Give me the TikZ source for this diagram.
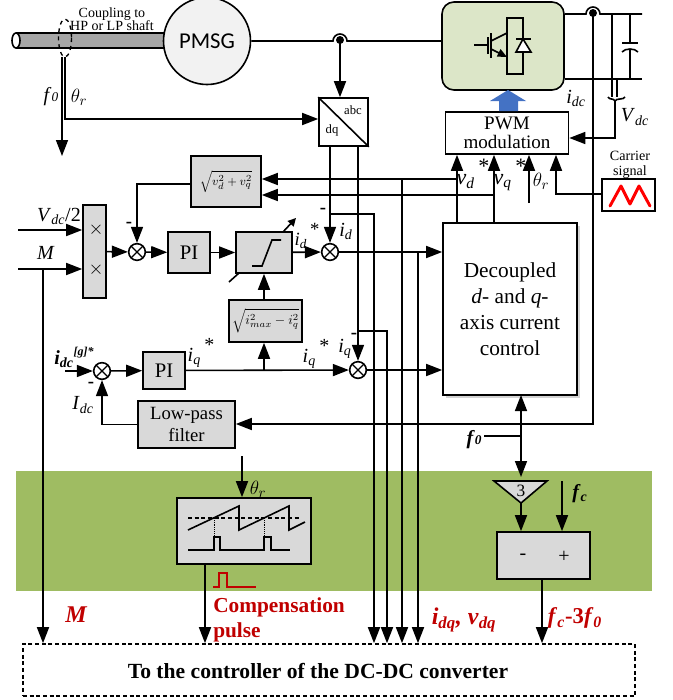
\documentclass[tikz,border=0pt]{standalone}
\usepackage{amsmath}
\usepackage{fontspec}
\setmainfont{Liberation Serif}
\newfontfamily\pmsgfont{Carlito}
\usetikzlibrary{arrows.meta,calc,shadows}
\definecolor{bandgreen}{HTML}{9FBC62}
\definecolor{invgreen}{HTML}{DCE6C8}
\definecolor{blockgray}{HTML}{D9D9D9}
\definecolor{redlabel}{HTML}{C00000}
\definecolor{pwmblue}{HTML}{4472C4}
\newcommand{\fs}[1]{\fontsize{#1}{#1}\selectfont}
\newcommand{\sub}[2]{\textit{#1}$_{\textit{#2}}$}
\newcommand{\subst}[2]{\textit{#1}$_{\textit{#2}}$\raisebox{.5em}{\,*}}
\tikzset{
	sized/.style 2 args={minimum width=#1*0.75pt,minimum height=#2*0.75pt,inner sep=0pt},
	block/.style={draw,line width=1.2pt,fill=blockgray},
	plainblock/.style={draw,line width=1.2pt,fill=white},
	wire/.style={line width=1.2pt},
	feed/.style={line width=1.2pt,-{Triangle[length=12pt,width=9pt]}},
	mixer/.style={draw,circle,line width=1.2pt,fill=white,minimum size=12.5pt,inner sep=0pt,
		path picture={\draw[line width=1pt] (path picture bounding box.north west) -- (path picture bounding box.south east)
			(path picture bounding box.north east) -- (path picture bounding box.south west);}},
	lab/.style={inner sep=0pt,font=\fs{15}},
	minus/.style={inner sep=0pt,font=\fs{14}\bfseries},
	redlab/.style={inner sep=0pt,text=redlabel,font=\fs{16}\bfseries}
}

\begin{document}
\begin{tikzpicture}[x=0.75pt,y=-0.75pt]
		%%%%% START %%%%%
		\useasboundingbox (0,0) rectangle (673,700);
		
		\fill[bandgreen] (16,471) rectangle (652,591);
		
		%%%%% shaft and generator
		\draw[wire,fill=black!35] (16,33) -- (165,33) -- (165,48) -- (16,48);
		\draw[wire,fill=white] (16,40.5) ellipse (4 and 7.5);
		\draw[line width=1pt,dashed] (65,38) ellipse (6.5 and 19);
		\node[sized={87}{87},draw,circle,line width=1.2pt,fill=black!5,font=\pmsgfont\fs{17}] (pmsg) at (207,41) {PMSG};
		\node[inner sep=0pt,align=center,font=\fs{10.5}] (coupling) at (112,19) {Coupling to\\[-0.5pt]HP or LP shaft};
		
		%%%%% converter
		\node[sized={122}{88},draw,rounded corners=9pt,line width=1.2pt,fill=invgreen] (inv) at (503,46) {};
		\draw[wire] (474,45) -- (488,45) (488,37) -- (488,54) (491,33) -- (491,58);
		\draw[wire] (491,41) -- (507,33) (507,18) rectangle (523,74);
		\draw[line width=1.2pt,-{Triangle[length=7pt,width=6pt]}] (491,49) -- (507,57);
		\draw[wire,fill=white] (523,39) -- (516,52) -- (531,52) -- cycle;
		\draw[wire] (516,39) -- (531,39);
		
		\coordinate (hopac) at (333,41);
		\coordinate (hopdc) at (586,14);
		\coordinate (acdot) at (340,40);
		\coordinate (dcdot) at (593,13);
		\draw[wire] (pmsg) -- (hopac) arc (180:360:7) -- (hopac -| inv.west);
		\draw[wire] (inv.east |- hopdc) -- (hopdc) arc (180:360:7) -- (642,14);
		\fill (acdot) circle (4);
		\fill (dcdot) circle (4);
		\draw[wire] (inv.east |- 0,79) -- (642,79);
		
		%%%%% dc link
		\draw[wire] (630,14) -- (630,43) (622,43) -- (638,43);
		\draw[wire] (622,52) .. controls (625,48) and (635,48) .. (638,52);
		\draw[wire] (630,49) -- (630,79);
		\draw[wire] (612,14) -- (612,97) (617,79) -- (617,97);
		\draw[wire] (608,97) .. controls (609,100) and (614,98) .. (615,101) .. controls (616,98) and (624,100) .. (625,97);
		\node[lab] (idclab) at (576,98) {\sub{i}{dc}};
		\node[lab] (vdclab) at (635,117) {\sub{V}{dc}};
		
		%%%%% pwm
		\node[sized={123}{42},plainblock,align=center,font=\fs{14.3}] (pwm) at (507,133) {PWM\\[0pt]modulation};
		\fill[pwmblue] (499,111) -- (499,101) -- (490,101) -- (508,90) -- (526,101) -- (518,101) -- (518,111) -- cycle;
		\coordinate (vdcdown) at (615,101);
		\draw[feed] (vdcdown) |- (pwm.east |- 0,138);
		
		\node[sized={53}{32},plainblock] (carrier) at (628.5,195) {};
		\draw[line width=2.2pt,red,line cap=round,line join=round] (610,206) -- (621,186) -- (630,204) -- (639,186) -- (650,206);
		\node[inner sep=0pt,align=center,font=\fs{10.6}] (carrierlab) at (630,165) {Carrier\\[0.5pt]signal};
		\coordinate (carrierup) at (556,194);
		\draw[feed] (carrier.west |- carrierup) -- (carrierup) -- (carrierup |- pwm.south);
		\coordinate (thetaup) at (529,203);
		\draw[feed] (thetaup) -- (thetaup |- pwm.south);
		\node[lab] (thetapwm) at (541,181) {$\theta_r$};
		\node[lab,font=\fs{16.5}] (vdlab) at (473,174) {\subst{v}{d}};
		\node[lab,font=\fs{16.5}] (vqlab) at (510,175) {\subst{v}{q}};
		
		%%%%% abc to dq
		\node[sized={49}{48},draw,line width=1.2pt,fill=white] (park) at (343.5,122) {};
		\draw[wire] (park.north west) -- (park.south east);
		\node[inner sep=0pt,font=\fs{9.5}] (abclab) at (353,110) {abc};
		\node[inner sep=0pt,font=\fs{9.5}] (dqlab) at (332,130) {dq};
		\draw[feed] (acdot) -- (acdot |- park.north);
		
		\coordinate (shaftf) at (62,57);
		\coordinate (shaftt) at (65,57);
		\coordinate (fdown) at (62,156);
		\draw[feed] (shaftf) -- (fdown);
		\draw[feed] (shaftt) |- (park.west |- 0,119);
		\node[lab] (flab) at (51,97) {\textit{f}\fs{10}\textit{0}};
		\node[lab] (thetalab) at (79,97) {$\theta_r$};
		
		%%%%% d axis
		\node[sized={70}{51},block,font=\fs{9.5}] (vroot) at (226,181.5) {$\sqrt{v_d^2+v_q^2}$};
		\node[sized={23}{93},block,font=\fs{14}] (multi) at (94.5,251.5) {};
		\node[inner sep=0pt,font=\fs{15}] (multa) at (96,230) {$\times$};
		\node[inner sep=0pt,font=\fs{15}] (multb) at (96,270) {$\times$};
		\node[mixer] (sumd) at (137,252) {};
		\node[sized={42}{41},block,font=\fs{15.5}] (pid) at (189,252.5) {PI};
		\node[sized={56}{41},block] (limit) at (264,252.5) {};
		\node[mixer] (errd) at (330,252) {};
		\draw[wire] (252,266) -- (262,266) -- (272,240) -- (281,240);
		\draw[wire] (229,282) -- (239,273);
		\draw[line width=1.2pt,-{Triangle[length=6pt,width=6pt]}] (283,232) -- (296,218);
		
		\coordinate (vdcin) at (18,230);
		\coordinate (min) at (18,269);
		\coordinate (rootout) at (191,184);
		\draw[feed] (vdcin) -- (multi.west |- vdcin);
		\draw[feed] (min) -- (multi.west |- min);
		\node[lab] (vdc2lab) at (59,216) {\sub{V}{dc}/2};
		\node[lab] (mlab) at (46,253) {\textit{M}};
		\draw[feed] (multi) -- (sumd);
		\draw[feed] (sumd) -- (pid);
		\draw[feed] (pid) -- (limit);
		\draw[feed] (limit) -- (errd);
		\draw[feed] (rootout) -| (sumd);
		\node[minus] (minusa) at (129,225) {-};
		\node[lab,font=\fs{14}] (idstar) at (307,236) {\subst{i}{d}};
		\node[lab] (idlab) at (346,231) {\sub{i}{d}};
		\node[minus] (minusb) at (323,211) {-};
		
		%%%%% q axis
		\node[sized={73}{42},block,font=\fs{10}] (iroot) at (265.5,321) {$\sqrt{i_{max}^2-i_q^2}$};
		\node[mixer] (sumq) at (102,371) {};
		\node[sized={42}{37},block,font=\fs{15.5}] (piq) at (164,370.5) {PI};
		\node[mixer] (errq) at (358,370) {};
		\node[sized={97}{47},block,align=center,font=\fs{14}] (lowpass) at (186.5,424.5) {Low-pass\\[2.5pt]filter};
		\node[sized={134}{172},plainblock,drop shadow={shadow xshift=2.5pt,shadow yshift=-2.5pt,opacity=.35},align=center,font=\fs{16}] (ctrl) at (510,309) {Decoupled\\[3.5pt]\textit{d}- and \textit{q}-\\[3.5pt]axis current\\[3.5pt]control};
		
		\coordinate (idcin) at (65,371);
		\draw[feed] (idcin) -- (sumq);
		\draw[feed] (sumq) -- (piq);
		\draw[feed] (piq) -- (errq);
		\coordinate (rootq) at (264,370);
		\draw[feed] (rootq) -- (rootq |- iroot.south);
		\draw[feed] (rootq |- iroot.north) -- (rootq |- limit.south);
		\node[lab,font=\fs{15}\bfseries] (idcref) at (74,357) {\textit{\textbf{i}}$_{\textbf{\textit{dc}}}$\raisebox{.45em}{\fs{9}\textbf{\textit{[g]*}}}};
		\node[minus] (minusc) at (91,385) {-};
		\node[lab] (idclow) at (83,405) {\sub{I}{dc}};
		\node[lab] (iqstara) at (201,353) {\subst{i}{q}};
		\node[lab] (iqstarb) at (316,354) {\subst{i}{q}};
		\node[lab] (iqlab) at (345,349) {\sub{i}{q}};
		\node[minus] (minusd) at (354,336) {-};
		\draw[feed] (errd) -- (ctrl.west |- errd);
		\draw[feed] (errq) -- (ctrl.west |- errq);
		
		%%%%% measured signals
		\coordinate (vdbus) at (402,179);
		\coordinate (vqbus) at (494,195);
		\coordinate (vdup) at (457,223);
		\coordinate (vqup) at (494,223);
		\draw[feed] (vdup) -- (vdup |- pwm.south);
		\draw[feed] (vqup) -- (vqup |- pwm.south);
		\draw[feed] (vdup |- vdbus) -- (vdbus -| vroot.east);
		\draw[feed] (vqbus) -- (vqbus -| vroot.east);
		\draw[feed] (errd |- park.south) -- (errd);
		\draw[feed] (errq |- park.south) -- (errq);
		
		\node[sized={612}{52},draw,densely dashed,line width=1.2pt] (dcdc) at (329,670) {};
		\node[inner sep=0pt,font=\fs{16.2}\bfseries] (dcdctext) at (318,671) {To the controller of the DC-DC converter};
		\coordinate (idtap) at (374,214);
		\coordinate (iqtap) at (387,331);
		\coordinate (errtap) at (418,253);
		\draw[feed] (errd |- idtap) -- (idtap) -- (idtap |- dcdc.north);
		\draw[feed] (errq |- iqtap) -- (iqtap) -- (iqtap |- dcdc.north);
		\draw[feed] (vdbus) -- (vdbus |- dcdc.north);
		\draw[feed] (errtap) -- (errtap |- dcdc.north);
		\coordinate (mtap) at (43,269);
		\draw[feed] (mtap) -- (mtap |- dcdc.north);
		\draw[feed] (dcdot) |- (lowpass.east |- 0,424);
		\draw[feed] (lowpass.west) -| (sumq);
		
		%%%%% third harmonic
		\node[sized={93}{47},block] (diff) at (543.5,555.5) {};
		\node[inner sep=0pt,font=\fs{15}] (difflab) at (523,557) {-};
		\node[inner sep=0pt,font=\fs{15}] (sumlab) at (564,557) {+};
		\coordinate (tria) at (494,481);
		\coordinate (trib) at (547,481);
		\coordinate (tric) at (521,503);
		\draw[wire,fill=blockgray] (tria) -- (trib) -- (tric) -- cycle;
		\node[inner sep=0pt,font=\fs{13}] (three) at (521,491) {3};
		\coordinate (ctrlbelow) at (521,395);
		\coordinate (trimid) at (521,436);
		\coordinate (triin) at (521,477);
		\draw[line width=1.2pt,{Triangle[length=12pt,width=9pt]}-{Triangle[length=12pt,width=9pt]}] (ctrlbelow) -- (triin);
		\coordinate (fzeroend) at (484,436);
		\draw[wire] (fzeroend) -- (trimid);
		\node[lab,font=\fs{15}\bfseries] (fzero) at (474,440) {\textit{f}\fs{10}\textit{0}};
		\draw[feed] (tric) -- (tric |- diff.north);
		\coordinate (fcin) at (562,481);
		\draw[feed] (fcin) -- (fcin |- diff.north);
		\node[lab,font=\fs{15}\bfseries] (fclab) at (580,494) {\sub{f}{c}};
		\coordinate (diffout) at (542,579);
		\draw[feed] (diffout) -- (diffout |- dcdc.north);
		
		%%%%% compensation pulse
		\node[sized={134}{66},block] (saw) at (244,531) {};
		\draw[wire] (188,530) -- (239,506) -- (239,530) -- (289,506) -- (289,530) -- (305,522);
		\draw[line width=0.9pt,densely dashed] (188,518) -- (299,518);
		\draw[line width=0.4pt,densely dotted] (214,518) -- (214,537) (264.5,518) -- (264.5,537);
		\draw[wire] (188,550) -- (214,550) -- (214,537) -- (220,537) -- (220,550) -- (264,550) -- (264,537) -- (271,537) -- (271,550) -- (290,550);
		\coordinate (thetain) at (242,456);
		\draw[feed] (thetain) -- (thetain |- saw.north);
		\node[lab] (thetasaw) at (258,489) {$\theta_r$};
		\coordinate (sawout) at (205,564);
		\draw[feed] (sawout) -- (sawout |- dcdc.north);
		\draw[line width=1.2pt,redlabel] (213,587) -- (219,587) -- (219,573) -- (227,573) -- (227,587) -- (256,587);
		
		\node[redlab,font=\fs{18}\bfseries\itshape] (mred) at (76,615) {M};
		\node[redlab,anchor=west] (comp) at (213,607) {Compensation};
		\node[redlab,anchor=west] (pulse) at (213,632) {pulse};
		\node[redlab,font=\fs{18}\bfseries] (idqlab) at (464,620) {\textit{i}$_{\textit{dq}}$\textit{,} \textit{v}$_{\textit{dq}}$};
		\node[redlab,font=\fs{17}\bfseries] (fclabel) at (575,618) {\textit{f}$_{\textit{c}}$-3\textit{f}$_{\textit{0}}$};
		%%%%% END %%%%%
	\end{tikzpicture}
\end{document}
